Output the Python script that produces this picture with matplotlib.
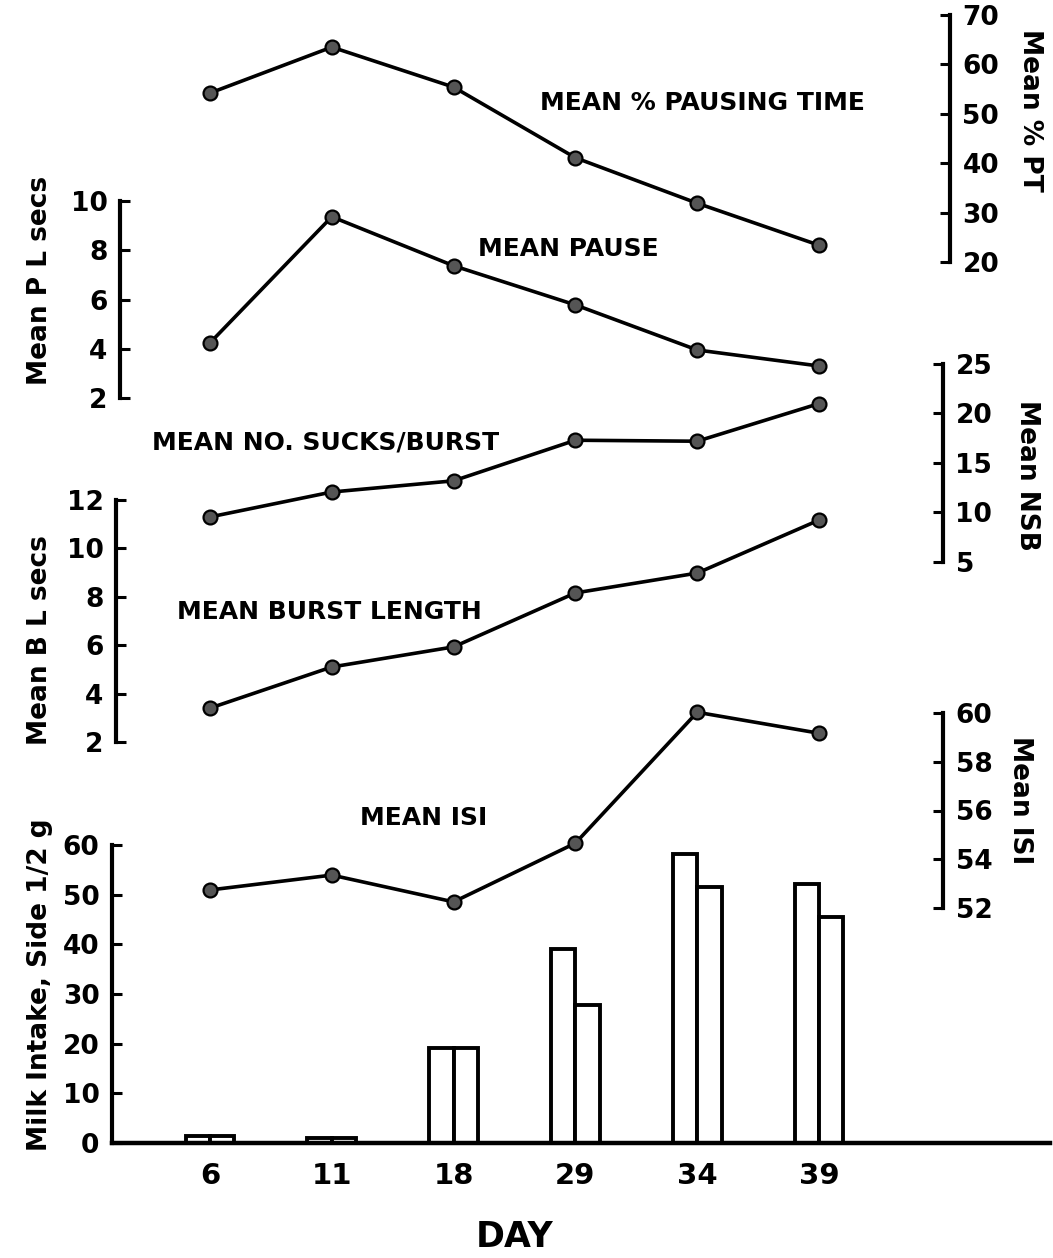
import matplotlib
matplotlib.use('Agg')
import matplotlib.pyplot as plt
import numpy as np

# values
days = ['6', '11', '18', '29', '34', '39']
pct_pausing = [54.2, 63.5, 55.4, 41.1, 31.9, 23.4]
mean_pause = [4.24, 9.36, 7.37, 5.78, 3.95, 3.3]
sucks_per_burst = [9.55, 12.07, 13.2, 17.3, 17.2, 21.0]
burst_length = [3.4, 5.1, 5.93, 8.16, 8.98, 11.17]
mean_isi = [52.74, 53.35, 52.25, 54.66, 60.03, 59.17]
milk_a = [1.5, 1.0, 19.1, 39.0, 58.1, 52.1]
milk_b = [1.5, 1.0, 19.1, 27.8, 51.5, 45.5]

W, H = 1053, 1258
plt.rcParams['font.family'] = 'DejaVu Sans'
plt.rcParams['font.weight'] = 'bold'
plt.rcParams['axes.labelweight'] = 'bold'

fig = plt.figure(figsize=(W / 100, H / 100), dpi=100)

# shared horizontal frame (pixels)
X_LEFT, X_RIGHT = 112, 1050
STEP = 121.8
x = np.arange(len(days))
xlim = ((X_LEFT - 210) / STEP, (X_RIGHT - 210) / STEP)


def make_axes(top, bottom, ylim, ticks, side, spine_px, label, label_px):
    ax = fig.add_axes([X_LEFT / W, 1 - bottom / H, (X_RIGHT - X_LEFT) / W, (bottom - top) / H])
    ax.patch.set_alpha(0)
    ax.set_xlim(*xlim)
    ax.set_ylim(*ylim)
    for s in ax.spines.values():
        s.set_visible(False)
    ax.set_xticks([])
    ax.set_yticks(ticks)
    frac = (spine_px - X_LEFT) / (X_RIGHT - X_LEFT)
    if side == 'right':
        ax.yaxis.tick_right()
    sp = ax.spines[side]
    sp.set_visible(True)
    sp.set_linewidth(3)
    sp.set_position(('axes', frac))
    ax.tick_params(axis='y', direction='in', length=7, width=2.2, labelsize=19, pad=9)
    rot = 90 if side == 'left' else -90
    ax.set_ylabel(label, fontsize=19, fontweight='bold', rotation=rot, va='center', ha='center')
    lx, ly = label_px
    ax.yaxis.set_label_coords((lx - X_LEFT) / (X_RIGHT - X_LEFT), (bottom - ly) / (bottom - top))
    return ax


def draw_line(ax, vals):
    ax.plot(x, vals, '-o', color='black', lw=2.6, ms=10, mfc='#555555',
            mec='black', mew=1.6, clip_on=False, zorder=3)


# milk intake bars
ax_milk = make_axes(845, 1143, (0, 60), range(0, 61, 10), 'left', 112,
                    'Milk Intake, Side 1/2 g', (40, 985))
ax_milk.bar(x - 0.1, milk_a, width=0.2, facecolor='white', edgecolor='black', linewidth=2.8)
ax_milk.bar(x + 0.1, milk_b, width=0.2, facecolor='white', edgecolor='black', linewidth=2.8)
ax_milk.spines['bottom'].set_visible(True)
ax_milk.spines['bottom'].set_linewidth(3.2)
ax_milk.set_xticks(x)
ax_milk.set_xticklabels(days)
ax_milk.tick_params(axis='x', length=0, labelsize=21, pad=14)
ax_milk.set_xlabel('DAY', fontsize=25, fontweight='bold', va='center', ha='center')
ax_milk.xaxis.set_label_coords((515 - X_LEFT) / (X_RIGHT - X_LEFT), (1143 - 1237) / (1143 - 845))

ax_isi = make_axes(713, 908, (52, 60), range(52, 61, 2), 'right', 943,
                   'Mean ISI', (1020, 800))
draw_line(ax_isi, mean_isi)

ax_bl = make_axes(500, 742, (2, 12), range(2, 13, 2), 'left', 116,
                  'Mean B L secs', (40, 640))
draw_line(ax_bl, burst_length)

ax_nsb = make_axes(364, 562, (5, 25), range(5, 26, 5), 'right', 943,
                   'Mean NSB', (1027, 475))
draw_line(ax_nsb, sucks_per_burst)

ax_pl = make_axes(201, 398, (2, 10), range(2, 11, 2), 'left', 120,
                  'Mean P L secs', (40, 280))
draw_line(ax_pl, mean_pause)

ax_pt = make_axes(15, 262, (20, 70), range(20, 71, 10), 'right', 950,
                  'Mean % PT', (1030, 110))
draw_line(ax_pt, pct_pausing)

# series captions
captions = [
    ('MEAN % PAUSING TIME', 540, 103),
    ('MEAN PAUSE', 478, 249),
    ('MEAN NO. SUCKS/BURST', 152, 442),
    ('MEAN BURST LENGTH', 177, 612),
    ('MEAN ISI', 360, 818),
]
for txt, px, py in captions:
    fig.text(px / W, 1 - py / H, txt, fontsize=18, ha='left', va='center')

fig.savefig('out.png', dpi=100, facecolor='white')
